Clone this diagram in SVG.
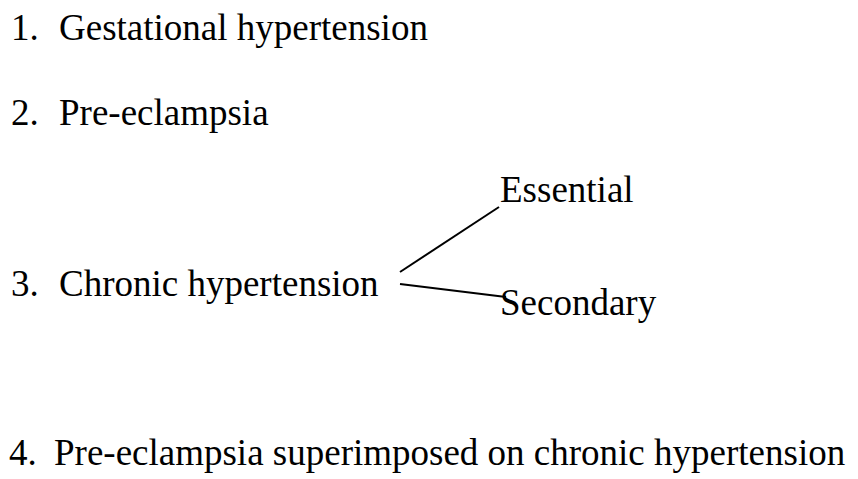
<svg xmlns="http://www.w3.org/2000/svg" width="858" height="479" viewBox="0 0 858 479">
<style>
text{font-family:"Liberation Serif","Times New Roman",serif;font-size:37px;fill:#000}
.c{stroke:#000;stroke-width:2;fill:none}
</style>
<rect width="858" height="479" fill="#fff"/>
<g id="item1"><text y="40"><tspan x="11">1.</tspan><tspan x="59">Gestational hypertension</tspan></text></g>
<g id="item2"><text y="125"><tspan x="11">2.</tspan><tspan x="59">Pre-eclampsia</tspan></text></g>
<g id="item3"><text y="296"><tspan x="11">3.</tspan><tspan x="59">Chronic hypertension</tspan></text></g>
<g id="essential"><text x="500" y="202">Essential</text></g>
<g id="secondary"><text x="500" y="315">Secondary</text></g>
<g id="item4"><text y="465"><tspan x="9">4.</tspan><tspan x="54">Pre-eclampsia superimposed on chronic hypertension</tspan></text></g>
<g id="connectors">
<line class="c" x1="400" y1="272" x2="499" y2="207"/>
<line class="c" x1="400" y1="284" x2="506" y2="297"/>
</g>
</svg>
